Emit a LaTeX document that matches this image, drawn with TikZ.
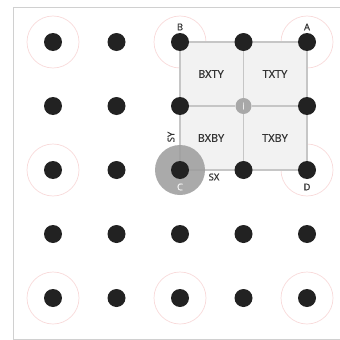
\documentclass[tikz,border=0pt]{standalone}
\usepackage{fontspec}
\setmainfont{Open Sans}
\newfontfamily\labfont[FakeBold=0.8]{Open Sans}
\pgfdeclarelayer{bg}
\pgfdeclarelayer{mid}
\pgfsetlayers{bg,mid,main}
\definecolor{dotc}{HTML}{222222}
\definecolor{ringc}{HTML}{F8DADA}
\definecolor{framec}{HTML}{D0D0D0}
\definecolor{sqfill}{HTML}{F2F2F2}
\definecolor{gridc}{HTML}{C6C6C6}
\definecolor{diskc}{HTML}{9E9E9E}
\definecolor{labc}{HTML}{333333}
\tikzset{
  dot/.style={circle,fill=dotc,minimum size=18pt,inner sep=0pt},
  ring/.style={draw=ringc,line width=0.7pt},
  gridline/.style={draw=gridc,line width=1.1pt},
  lab/.style={font=\labfont\fontsize{9.5}{10}\selectfont,text=labc,inner sep=0pt},
  cell/.style={font=\labfont\fontsize{11}{12}\selectfont,text=labc,inner sep=0pt},
}
\begin{document}
\begin{tikzpicture}[x=1pt,y=-1pt]
\useasboundingbox (0,0) rectangle (340,340);
% frame
\draw[framec,line width=1pt] (340,7) -- (13.5,7) -- (13.5,339) -- (340,339);
% dots
\foreach \i in {0,...,4}{
  \foreach \j in {0,...,4}{
    \pgfmathsetmacro{\xx}{53+63.5*\i}
    \pgfmathsetmacro{\yy}{42+64*\j}
    \ifnum\i=3\ifnum\j=1\else\node[dot] (d-\i-\j) at (\xx,\yy) {};\fi\else
    \node[dot] (d-\i-\j) at (\xx,\yy) {};\fi
  }
}
% center point i
\node[circle,fill=diskc!90,minimum size=16pt,inner sep=0pt,text=white!85!gray,font=\labfont\fontsize{9}{10}\selectfont] (ci) at (243.5,106) {i};
% rings
\begin{pgfonlayer}{bg}
\foreach \n in {d-0-0,d-2-0,d-4-0,d-0-2,d-4-2,d-0-4,d-2-4,d-4-4}{
  \draw[ring] (\n) circle[radius=26];
}
\fill[sqfill] (d-2-0.center) rectangle (d-4-2.center);
\end{pgfonlayer}
\begin{pgfonlayer}{mid}
\draw[gridline] (d-2-0.center) -- (d-4-0.center);
\draw[gridline] (d-2-1.center) -- (ci);
\draw[gridline] (ci) -- (d-4-1.center);
\draw[gridline] (d-2-2.center) -- (d-4-2.center);
\draw[gridline] (d-2-0.center) -- (d-2-2.center);
\draw[gridline] (d-3-0.center) -- (ci);
\draw[gridline] (ci) -- (d-3-2.center);
\draw[gridline] (d-4-0.center) -- (d-4-2.center);
\fill[diskc,opacity=0.88] (d-2-2.center) circle[radius=25];
\end{pgfonlayer}
% labels
\node[lab] (la) at (307,27) {A};
\node[lab] (lb) at (180,27) {B};
\node[lab,text=white!90!gray] (lc) at (180,187) {C};
\node[lab] (ld) at (307,187) {D};
\node[cell] (t1) at (211,74) {BXTY};
\node[cell] (t2) at (275,74) {TXTY};
\node[cell] (t3) at (211,138) {BXBY};
\node[cell] (t4) at (275,138) {TXBY};
\node[lab,rotate=90] (sy) at (171,137) {SY};
\node[lab] (sx) at (214,177) {SX};
\end{tikzpicture}
\end{document}
